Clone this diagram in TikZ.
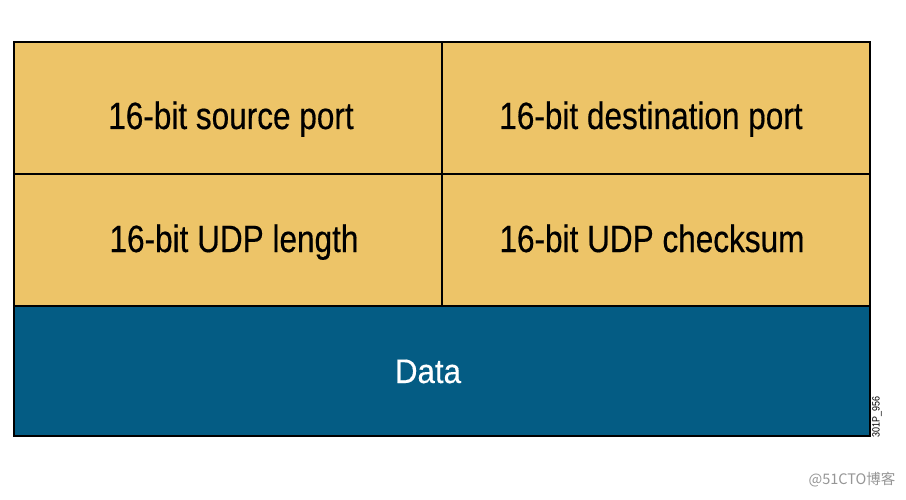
\documentclass[tikz,border=0pt]{standalone}
\usepackage{fontspec}
\setmainfont{Liberation Sans}
\newfontfamily\fieldfont[FakeStretch=0.83,FakeBold=0.4]{Liberation Sans}
\newfontfamily\datafont[FakeStretch=0.92,FakeBold=0.3]{Liberation Sans}
\newfontfamily\codefont[FakeStretch=0.85]{Liberation Sans}
\newfontfamily\cjkfont{Noto Sans CJK SC}
\definecolor{fieldyellow}{RGB}{237,196,104}
\definecolor{datablue}{RGB}{4,92,132}
\definecolor{wmgray}{RGB}{150,150,150}
\begin{document}
\begin{tikzpicture}[x=1pt,y=-1pt,
  cellline/.style={draw=black,line width=2pt},
  fieldtext/.style={font=\fieldfont\fontsize{38}{42}\selectfont,text=black,inner sep=0pt,anchor=base},
  datatext/.style={font=\datafont\fontsize{34}{38}\selectfont,text=white,inner sep=0pt,anchor=base}]
\useasboundingbox (0,0) rectangle (906,500);
\fill[white] (0,0) rectangle (906,500);
% cells
\fill[fieldyellow] (14,42) rectangle (870,306);
\fill[datablue] (14,306) rectangle (870,436);
\draw[cellline] (14,174) -- (870,174);
\draw[cellline] (14,306) -- (870,306);
\draw[cellline] (442,42) -- (442,306);
\draw[cellline] (14,42) rectangle (870,436);
% texts
\node[fieldtext] (src) at (231,129) {16-bit source port};
\node[fieldtext] (dst) at (651,129) {16-bit destination port};
\node[fieldtext] (len) at (234,252) {16-bit UDP length};
\node[fieldtext] (chk) at (652,252) {16-bit UDP checksum};
\node[datatext] (data) at (428,383) {Data};
\node[font=\codefont\fontsize{10.5}{12}\selectfont,rotate=90,inner sep=0pt] (code) at (877,417) {301P\_956};
\node[font=\cjkfont\fontsize{14.5}{16}\selectfont,text=wmgray,inner sep=0pt] (wm) at (852,480) {@51CTO博客};
\end{tikzpicture}
\end{document}
